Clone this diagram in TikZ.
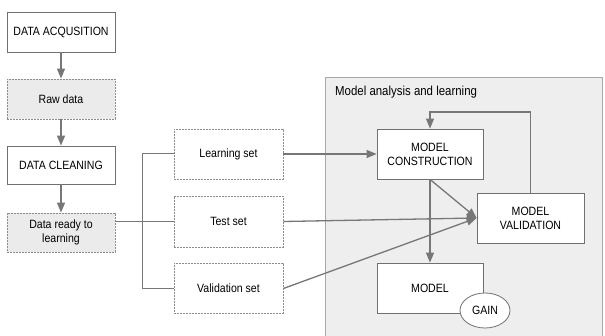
\documentclass[tikz,border=0pt]{standalone}
\usepackage{fontspec}
\setmainfont{Liberation Sans}[FakeStretch=0.88]
\usetikzlibrary{arrows.meta,shapes.geometric}
\definecolor{boxgray}{HTML}{707070}
\definecolor{dashgray}{HTML}{8C8C8C}
\definecolor{linegray}{HTML}{777777}
\definecolor{lightfill}{HTML}{EBEBEB}
\definecolor{regionfill}{HTML}{EEEEEE}
\definecolor{regionline}{HTML}{A8A8A8}
\begin{document}
\begin{tikzpicture}[x=1pt,y=-1pt,
  box/.style={draw=boxgray, fill=white, line width=0.8pt, minimum width=108pt,
    minimum height=40pt, align=center, inner sep=0pt,
    font=\fontsize{12}{14}\selectfont},
  dbox/.style={box, draw=dashgray, dash pattern=on 2pt off 1pt, fill=lightfill},
  sbox/.style={box, draw=dashgray, dash pattern=on 2pt off 1pt, fill=white,
    minimum width=109pt, minimum height=50pt},
  mbox/.style={box, minimum width=106pt, minimum height=50pt},
  arr/.style={draw=linegray, line width=1.3pt,
    -{Triangle[length=10pt,width=8pt,fill=linegray]}},
  ln/.style={draw=linegray, line width=1pt}]
\useasboundingbox (0,0) rectangle (605,336);
% region
\fill[regionfill] (325,77) rectangle (602,340);
\draw[regionline, line width=0.8pt] (325,340) -- (325,77) -- (602,77) -- (602,340);
\node[anchor=west, inner sep=0pt, font=\fontsize{13}{15}\selectfont] (title) at (335,92) {Model analysis and learning};
% left column
\node[box] (acq) at (61,32) {DATA ACQUSITION};
\node[dbox] (raw) at (61,99) {Raw data};
\node[box, minimum height=38pt] (clean) at (61,165) {DATA CLEANING};
\node[dbox, minimum height=39pt] (ready) at (61,232.5) {Data ready to\\learning};
\draw[arr] (acq) -- (raw);
\draw[arr] (raw) -- (clean);
\draw[arr] (clean) -- (ready);
% sets
\node[sbox] (learn) at (228.5,154) {Learning set};
\node[sbox, minimum height=51pt] (test) at (228.5,221.5) {Test set};
\node[sbox] (valid) at (228.5,288.5) {Validation set};
\coordinate (bt) at (142,0);
\draw[ln] (learn.west) -- (bt |- learn.west) -- (bt |- valid.west) -- (valid.west);
\draw[ln] (ready.east |- test.west) -- (test.west);
% model nodes
\node[mbox] (cons) at (430,154) {MODEL\\CONSTRUCTION};
\node[mbox, minimum width=107pt] (val) at (530.5,218) {MODEL\\VALIDATION};
\node[mbox] (model) at (430,288) {MODEL};
\node[ellipse, draw=boxgray, fill=white, line width=0.8pt, minimum width=50pt,
  minimum height=35pt, inner sep=0pt, font=\fontsize{12}{14}\selectfont] (gain) at (485,310.5) {GAIN};
% connectors
\draw[arr] (learn.east) -- (cons.west);
\draw[arr] (test.east) -- (val.west);
\draw[arr] (valid.east) -- (val.west);
\draw[arr] (cons.south) -- (val.west);
\draw[arr] (cons.south) -- (model.north);
\coordinate (fb) at (0,112);
\draw[arr] (val.north) -- (val.north |- fb) -- (cons.north |- fb) -- (cons.north);
\end{tikzpicture}
\end{document}
